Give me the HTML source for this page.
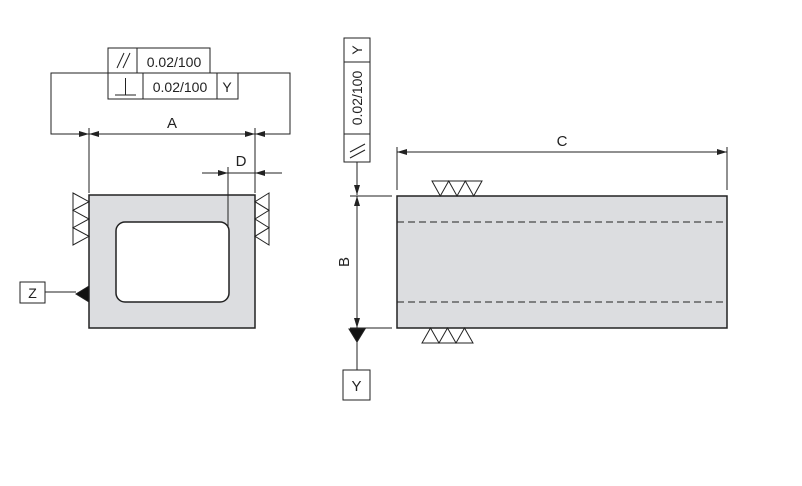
<!DOCTYPE html>
<html><head><meta charset="utf-8"><style>html,body{margin:0;padding:0;background:#fff}svg{display:block}</style></head><body>
<svg width="802" height="486" viewBox="0 0 802 486" xmlns="http://www.w3.org/2000/svg" font-family="Liberation Sans, sans-serif" fill="none" stroke="#222" stroke-width="1">
<defs>
<marker id="ar" viewBox="0 0 10 6" refX="10" refY="3" markerWidth="10" markerHeight="6" markerUnits="userSpaceOnUse" orient="auto"><path d="M0,0 L10,3 L0,6 z" fill="#222" stroke="none"/></marker>
</defs>
<!-- Left view -->
<rect x="89" y="195" width="166" height="133" fill="#dcdde0" stroke="#222" stroke-width="1.5"/>
<rect x="116" y="222" width="113" height="80" rx="9" fill="#fff" stroke="#222" stroke-width="1.5"/>
<!-- FCF left -->
<rect x="108" y="48" width="102" height="25" fill="#fff"/>
<line x1="137" y1="48" x2="137" y2="73"/>
<rect x="108" y="73" width="130" height="26" fill="#fff"/>
<line x1="143" y1="73" x2="143" y2="99"/>
<line x1="217" y1="73" x2="217" y2="99"/>
<text x="174" y="67" font-size="14" fill="#222" stroke="none" text-anchor="middle">0.02/100</text>
<text x="180" y="92" font-size="14" fill="#222" stroke="none" text-anchor="middle">0.02/100</text>
<text x="227" y="92" font-size="14" fill="#222" stroke="none" text-anchor="middle">Y</text>
<line x1="117" y1="68" x2="124" y2="53"/><line x1="123" y1="68" x2="130" y2="53"/>
<line x1="115" y1="95" x2="136" y2="95"/><line x1="125.5" y1="95" x2="125.5" y2="78"/>
<!-- bracket -->
<polyline points="108,73 51,73 51,134 89,134"/>
<polyline points="238,73 290,73 290,134 255,134"/>
<line x1="51" y1="134" x2="89" y2="134" marker-end="url(#ar)"/>
<line x1="290" y1="134" x2="255" y2="134" marker-end="url(#ar)"/>
<line x1="172" y1="134" x2="89" y2="134" marker-end="url(#ar)"/>
<line x1="172" y1="134" x2="255" y2="134" marker-end="url(#ar)"/>
<text x="172" y="128" font-size="15" fill="#222" stroke="none" text-anchor="middle">A</text>
<line x1="89" y1="128" x2="89" y2="193"/>
<line x1="255" y1="128" x2="255" y2="193"/>
<!-- D -->
<line x1="202" y1="173" x2="228" y2="173" marker-end="url(#ar)"/>
<line x1="282" y1="173" x2="255" y2="173" marker-end="url(#ar)"/>
<line x1="228" y1="173" x2="255" y2="173"/>
<line x1="228" y1="167" x2="228" y2="228"/>
<text x="241" y="166" font-size="15" fill="#222" stroke="none" text-anchor="middle">D</text>
<!-- side triangles -->
<path d="M73,193 L89,201.7 L73,210.3 L89,219 L73,227.7 L89,236.3 L73,245 Z" fill="#fff"/>
<path d="M269,193 L255,201.7 L269,210.3 L255,219 L269,227.7 L255,236.3 L269,245 Z" fill="#fff"/>
<!-- Z -->
<rect x="20" y="282" width="25" height="21" fill="#fff"/>
<text x="32.5" y="298" font-size="14" fill="#222" stroke="none" text-anchor="middle">Z</text>
<line x1="45" y1="292" x2="76" y2="292"/>
<path d="M89,286 L76,294 L89,302 Z" fill="#111"/>
<!-- Right view -->
<rect x="397" y="196" width="330" height="132" fill="#dcdde0" stroke="#222" stroke-width="1.5"/>
<line x1="397" y1="222" x2="727" y2="222" stroke-dasharray="7,4"/>
<line x1="397" y1="302" x2="727" y2="302" stroke-dasharray="7,4"/>
<!-- C -->
<line x1="397" y1="147" x2="397" y2="190"/>
<line x1="727" y1="147" x2="727" y2="190"/>
<line x1="562" y1="152" x2="397" y2="152" marker-end="url(#ar)"/>
<line x1="562" y1="152" x2="727" y2="152" marker-end="url(#ar)"/>
<text x="562" y="146" font-size="15" fill="#222" stroke="none" text-anchor="middle">C</text>
<!-- surface triangles -->
<path d="M432,181 L482,181 L473.7,196 L465.3,181 L457,196 L448.7,181 L440.3,196 Z" fill="#fff"/>
<path d="M422,343 L473,343 L464.5,328 L456,343 L447.5,328 L439,343 L430.5,328 Z" fill="#fff"/>
<!-- vertical FCF -->
<rect x="344" y="38" width="26" height="124" fill="#fff"/>
<line x1="344" y1="62" x2="370" y2="62"/>
<line x1="344" y1="134" x2="370" y2="134"/>
<text transform="translate(362,50) rotate(-90)" font-size="14" fill="#222" stroke="none" text-anchor="middle">Y</text>
<text transform="translate(362,98) rotate(-90)" font-size="14" fill="#222" stroke="none" text-anchor="middle">0.02/100</text>
<line x1="350" y1="152" x2="365" y2="144"/><line x1="350" y1="158" x2="365" y2="150"/>
<line x1="357" y1="162" x2="357" y2="195" marker-end="url(#ar)"/>
<line x1="350" y1="196" x2="392" y2="196"/>
<line x1="350" y1="328" x2="392" y2="328"/>
<line x1="357" y1="262" x2="357" y2="196" marker-end="url(#ar)"/>
<line x1="357" y1="262" x2="357" y2="328" marker-end="url(#ar)"/>
<text transform="translate(349,262) rotate(-90)" font-size="15" fill="#222" stroke="none" text-anchor="middle">B</text>
<path d="M349,329 L365,329 L357,342 Z" fill="#111"/>
<line x1="357" y1="342" x2="357" y2="370"/>
<rect x="343" y="370" width="27" height="30" fill="#fff"/>
<text x="356.5" y="391" font-size="15" fill="#222" stroke="none" text-anchor="middle">Y</text>
</svg>
</body></html>
